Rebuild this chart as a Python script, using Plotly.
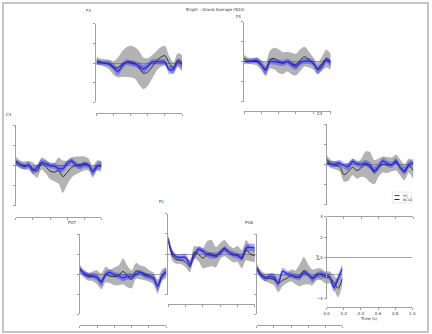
import numpy as np
import plotly.graph_objects as go

# ---- data: grand-average ERP (µV) per channel, HC vs BC10, mean and SEM ----
TIME = [0.0, 0.05, 0.1, 0.15, 0.2, 0.25, 0.3, 0.35, 0.4, 0.45, 0.5,
        0.55, 0.6, 0.65, 0.7, 0.75, 0.8, 0.85, 0.9, 0.95, 1.0]

F3_HC = [0.1, 0.05, 0.0, -0.05, -0.4, -0.85, -0.3, 0.1, 0.0, -0.1, -0.3,
         -0.6, -0.3, 0.1, 0.15, 0.15, 0.1, -0.7, -0.6, 0.1, -0.15]
F3_HC_SEM = [0.3, 0.25, 0.25, 0.3, 0.35, 0.4, 0.35, 0.3, 0.3, 0.3, 0.35,
             0.4, 0.35, 0.3, 0.3, 0.3, 0.3, 0.4, 0.4, 0.35, 0.4]
F3_BC = [0.25, 0.1, 0.0, -0.15, -0.5, -0.45, -0.1, 0.1, 0.15, 0.0, -0.5,
         -1.05, -0.9, -0.4, 0.2, 0.6, 0.75, 0.0, -0.5, 0.3, 0.0]
F3_BC_SEM = [0.4, 0.35, 0.4, 0.5, 0.7, 1.0, 1.3, 1.5, 1.6, 1.6, 1.7,
             1.6, 1.4, 1.2, 1.0, 1.0, 1.0, 0.7, 0.6, 0.7, 0.8]

F4_HC = [0.0, 0.0, 0.1, 0.1, -0.3, -0.9, 0.0, 0.0, -0.1, -0.15, 0.0,
         -0.3, -0.5, -0.1, 0.05, 0.05, -0.15, -0.8, -0.5, 0.15, -0.15]
F4_HC_SEM = [0.25, 0.25, 0.25, 0.3, 0.35, 0.4, 0.3, 0.3, 0.3, 0.3, 0.3,
             0.35, 0.35, 0.3, 0.3, 0.3, 0.3, 0.4, 0.35, 0.3, 0.35]
F4_BC = [0.35, 0.1, 0.0, 0.0, -0.4, -0.75, 0.2, 0.3, 0.05, -0.15, 0.0,
         -0.2, -0.3, 0.15, 0.5, 0.2, -0.2, -0.7, -0.2, 0.3, 0.0]
F4_BC_SEM = [0.35, 0.3, 0.3, 0.4, 0.5, 0.7, 0.9, 1.1, 1.2, 1.1, 1.0,
             1.1, 1.1, 1.1, 1.0, 0.8, 0.6, 0.6, 0.7, 0.9, 0.8]

C3_HC = [0.3, 0.1, -0.1, 0.05, -0.5, -0.2, 0.3, 0.2, 0.0, -0.05, -0.3,
         -0.3, 0.2, 0.45, 0.1, -0.1, 0.1, 0.0, -0.6, -0.1, 0.1]
C3_HC_SEM = [0.3, 0.3, 0.3, 0.3, 0.35, 0.35, 0.3, 0.3, 0.3, 0.3, 0.35,
             0.35, 0.3, 0.3, 0.3, 0.3, 0.3, 0.3, 0.4, 0.35, 0.35]
C3_BC = [0.5, 0.1, 0.0, 0.0, -0.3, -0.6, 0.2, -0.1, -0.55, -0.65, -0.5,
         -1.1, -0.7, -0.2, 0.0, 0.1, 0.2, 0.1, -0.6, 0.0, -0.1]
C3_BC_SEM = [0.4, 0.4, 0.4, 0.45, 0.6, 0.6, 0.6, 0.7, 0.8, 0.9, 1.3,
             1.6, 1.2, 1.0, 0.9, 0.8, 0.7, 0.6, 0.6, 0.5, 0.5]

C4_HC = [0.2, 0.05, 0.05, 0.15, -0.1, -0.2, 0.3, 0.1, 0.0, 0.15, -0.1,
         -0.6, -0.2, 0.35, 0.1, -0.05, 0.35, -0.3, -0.6, 0.0, 0.2]
C4_HC_SEM = [0.3, 0.3, 0.3, 0.3, 0.3, 0.35, 0.3, 0.3, 0.3, 0.3, 0.35,
             0.4, 0.35, 0.3, 0.3, 0.3, 0.3, 0.35, 0.4, 0.35, 0.35]
C4_BC = [0.55, 0.05, -0.1, -0.2, -1.0, -0.7, -0.25, -0.6, -0.3, 0.0, -0.25,
         -0.75, -0.3, 0.0, -0.05, 0.0, 0.2, -0.3, -0.75, -0.1, -0.6]
C4_BC_SEM = [0.4, 0.4, 0.4, 0.5, 0.7, 0.9, 0.8, 0.8, 0.9, 1.3, 1.5,
             1.2, 0.9, 0.8, 0.8, 0.7, 0.8, 0.8, 0.8, 0.7, 0.8]

PO7_HC = [0.5, 0.1, -0.1, -0.15, -0.3, -0.8, 0.0, 0.2, -0.05, -0.15, -0.35,
          -0.2, -0.2, 0.0, 0.2, -0.1, -0.2, -0.35, -1.2, -0.2, 0.3]
PO7_HC_SEM = [0.3, 0.3, 0.3, 0.3, 0.35, 0.4, 0.35, 0.3, 0.3, 0.3, 0.35,
              0.35, 0.3, 0.3, 0.3, 0.3, 0.3, 0.35, 0.45, 0.35, 0.35]
PO7_BC = [0.6, 0.05, -0.25, -0.2, -0.3, -0.7, 0.0, -0.2, -0.2, -0.1, 0.3,
          -0.2, -0.5, 0.35, 0.2, 0.1, -0.15, -0.4, -1.2, -0.1, 0.2]
PO7_BC_SEM = [0.4, 0.4, 0.4, 0.5, 0.7, 0.8, 0.8, 0.7, 0.9, 1.0, 1.3,
              1.1, 0.9, 0.8, 0.7, 0.7, 0.6, 0.6, 0.7, 0.6, 0.5]

PZ_HC = [1.3, 0.1, -0.3, -0.3, -0.3, -1.0, -0.2, 0.5, 0.3, 0.0, -0.15,
         -0.1, 0.1, 0.5, 0.2, 0.0, -0.15, -0.3, 0.6, 0.7, 0.6]
PZ_HC_SEM = [0.35, 0.3, 0.3, 0.3, 0.35, 0.4, 0.35, 0.3, 0.3, 0.3, 0.3,
             0.3, 0.3, 0.3, 0.3, 0.3, 0.3, 0.35, 0.35, 0.35, 0.35]
PZ_BC = [1.6, -0.2, -0.55, -0.6, -0.8, -1.2, 0.2, 0.0, -0.4, 0.0, 0.1,
         -0.3, 0.3, 0.6, 0.2, -0.1, 0.0, -0.5, 0.4, 0.0, -0.15]
PZ_BC_SEM = [0.5, 0.5, 0.4, 0.4, 0.5, 0.6, 0.6, 0.7, 1.0, 1.3, 1.3,
             1.0, 0.8, 0.8, 0.7, 0.7, 0.8, 0.9, 1.0, 0.7, 0.6]

PO8_HC = [0.55, -0.1, -0.4, -0.2, -0.3, -0.9, 0.3, 0.1, -0.1, -0.2, -0.3,
          0.15, 0.0, -0.45, -0.1, 0.05, -0.1, -0.25, -1.3, -0.4, 0.6]
PO8_HC_SEM = [0.3, 0.3, 0.3, 0.3, 0.35, 0.4, 0.35, 0.3, 0.3, 0.3, 0.3,
              0.3, 0.3, 0.35, 0.3, 0.3, 0.3, 0.35, 0.45, 0.4, 0.4]
PO8_BC = [0.7, 0.0, -0.3, -0.4, -0.5, -0.9, -0.6, -0.4, -0.1, -0.3, -0.1,
          0.35, 0.0, -0.3, 0.0, 0.0, -0.3, -0.3, -0.8, -1.4, -0.4]
PO8_BC_SEM = [0.4, 0.4, 0.4, 0.5, 0.6, 0.9, 0.6, 0.5, 0.6, 0.7, 1.1,
              1.4, 1.0, 0.8, 0.6, 0.6, 0.6, 0.6, 0.7, 0.9, 0.6]

CHANNELS = ["F3", "F4", "C3", "C4", "PO7", "Pz", "PO8"]
SERIES = {
    "F3": (F3_HC, F3_HC_SEM, F3_BC, F3_BC_SEM),
    "F4": (F4_HC, F4_HC_SEM, F4_BC, F4_BC_SEM),
    "C3": (C3_HC, C3_HC_SEM, C3_BC, C3_BC_SEM),
    "C4": (C4_HC, C4_HC_SEM, C4_BC, C4_BC_SEM),
    "PO7": (PO7_HC, PO7_HC_SEM, PO7_BC, PO7_BC_SEM),
    "Pz": (PZ_HC, PZ_HC_SEM, PZ_BC, PZ_BC_SEM),
    "PO8": (PO8_HC, PO8_HC_SEM, PO8_BC, PO8_BC_SEM),
}
GROUPS = ["HC", "BC10"]
Y_TICKS = [-4, -2, 0, 2, 4]
X_TICKS = [0.0, 0.2, 0.4, 0.6, 0.8, 1.0]
TITLE = "Bright - Grand Average (N10)"

# ---- layout: scalp-like arrangement of small axes (pixel geometry) ----
W, H = 432, 334
# x0, x1: time axis extent; ytop/ybot: µV axis extent; xline: detached time axis row
GEOM = {
    "F3":  dict(x0=95,  x1=182, ytop=21,  ybot=101, xline=112),
    "F4":  dict(x0=245, x1=333, ytop=19,  ybot=100, xline=110),
    "C3":  dict(x0=13,  x1=100, ytop=124, ybot=206, xline=217),
    "C4":  dict(x0=329, x1=417, ytop=123, ybot=205, xline=216),
    "PO7": dict(x0=78,  x1=166, ytop=235, ybot=316, xline=327),
    "Pz":  dict(x0=168, x1=256, ytop=214, ybot=296, xline=306),
    "PO8": dict(x0=258, x1=345, ytop=235, ybot=316, xline=327),
}
SCALE_GEOM = dict(x0=329, x1=416, ytop=217, ybot=300, xline=309)

HC_LINE = "#2a2ae8"
HC_FILL = "rgba(40,40,255,0.40)"
BC_LINE = "#222222"
BC_FILL = "rgba(110,110,110,0.52)"
AXIS_COL = "#a0a0a0"
TEXT_COL = "#333333"
FONT = "DejaVu Sans"


def px(x):
    return x / W


def py(y):
    return 1 - y / H


def band(t, mean, sem):
    m, s = np.asarray(mean), np.asarray(sem)
    return list(t) + list(t[::-1]), list(m + s) + list((m - s)[::-1])


fig = go.Figure()
t = np.asarray(TIME)
layout = {}

for i, ch in enumerate(CHANNELS, start=1):
    sfx = "" if i == 1 else str(i)
    xa, ya = "x" + sfx, "y" + sfx
    hc, hc_sem, bc, bc_sem = SERIES[ch]

    for mean, sem, fill in ((bc, bc_sem, BC_FILL), (hc, hc_sem, HC_FILL)):
        bx, by = band(t, mean, sem)
        fig.add_trace(go.Scatter(x=bx, y=by, xaxis=xa, yaxis=ya, fill="toself",
                                 fillcolor=fill, mode="lines",
                                 line=dict(width=0, shape="spline", smoothing=0.8),
                                 hoverinfo="skip", showlegend=False))
    fig.add_trace(go.Scatter(x=TIME, y=bc, xaxis=xa, yaxis=ya, mode="lines",
                             name=GROUPS[1], showlegend=False,
                             line=dict(color=BC_LINE, width=0.9, shape="spline", smoothing=0.8)))
    fig.add_trace(go.Scatter(x=TIME, y=hc, xaxis=xa, yaxis=ya, mode="lines",
                             name=GROUPS[0], showlegend=False,
                             line=dict(color=HC_LINE, width=1.3, shape="spline", smoothing=0.8)))

    g = GEOM[ch]
    layout["xaxis" + sfx] = dict(
        domain=[px(g["x0"]), px(g["x1"])], anchor="free", position=py(g["xline"]),
        range=[0, 1], tickvals=X_TICKS, showticklabels=False, ticks="outside",
        ticklen=2, tickwidth=0.8, tickcolor=AXIS_COL, showline=True,
        linecolor=AXIS_COL, linewidth=1, showgrid=False, zeroline=False)
    layout["yaxis" + sfx] = dict(
        domain=[py(g["ybot"]), py(g["ytop"])], anchor=xa, range=[-4, 4],
        tickvals=Y_TICKS, showticklabels=False, ticks="outside", ticklen=2,
        tickwidth=0.8, tickcolor=AXIS_COL, showline=True, linecolor=AXIS_COL,
        linewidth=1, showgrid=False, zeroline=True, zerolinecolor="#a8a8a8",
        zerolinewidth=0.8)

# scale axes (bottom right)
k = len(CHANNELS) + 1
fig.add_trace(go.Scatter(x=[None], y=[None], xaxis=f"x{k}", yaxis=f"y{k}",
                         mode="lines", showlegend=False, hoverinfo="skip"))
layout[f"xaxis{k}"] = dict(
    domain=[px(SCALE_GEOM["x0"]), px(SCALE_GEOM["x1"])], anchor="free",
    position=py(SCALE_GEOM["xline"]), range=[0, 1], tickvals=X_TICKS,
    tickformat=".1f", ticks="outside", ticklen=2, tickwidth=0.8,
    tickcolor=AXIS_COL, showline=True, linecolor=AXIS_COL, linewidth=1,
    showgrid=False, zeroline=False, tickfont=dict(size=4, color=TEXT_COL, family=FONT))
layout[f"yaxis{k}"] = dict(
    domain=[py(SCALE_GEOM["ybot"]), py(SCALE_GEOM["ytop"])], anchor=f"x{k}",
    range=[-4, 4], tickvals=Y_TICKS, ticks="outside", ticklen=2, tickwidth=0.8,
    tickcolor=AXIS_COL, showline=True, linecolor=AXIS_COL, linewidth=1,
    showgrid=False, zeroline=True, zerolinecolor="#a0a0a0", zerolinewidth=1,
    tickfont=dict(size=4, color=TEXT_COL, family=FONT))

# channel labels, title, axis captions
LABEL_POS = {"F3": (87, 8), "F4": (239, 14), "C3": (6, 113), "C4": (322, 112),
             "PO7": (71, 223), "Pz": (161, 202), "PO8": (251, 223)}
annotations = []
for ch, (lx, ly) in LABEL_POS.items():
    annotations.append(dict(x=px(lx), y=py(ly), xref="paper", yref="paper",
                            text=ch, showarrow=False, xanchor="center",
                            yanchor="middle", font=dict(size=4, color=TEXT_COL, family=FONT)))
annotations.append(dict(x=px(216), y=py(7), xref="paper", yref="paper",
                        text=TITLE, showarrow=False, xanchor="center", yanchor="middle",
                        font=dict(size=4, color=TEXT_COL, family=FONT)))
annotations.append(dict(x=px(372), y=py(320), xref="paper", yref="paper",
                        text="Time (s)", showarrow=False, xanchor="center",
                        yanchor="middle", font=dict(size=4, color=TEXT_COL, family=FONT)))
annotations.append(dict(x=px(319), y=py(258), xref="paper", yref="paper",
                        text="µV", showarrow=False, textangle=-90, xanchor="center",
                        yanchor="middle", font=dict(size=4, color=TEXT_COL, family=FONT)))

# legend (compact, inside the C4 axes)
LEG_BOX = (396, 192, 415, 203)
shapes = [
    dict(type="rect", xref="paper", yref="paper", x0=0, y0=0, x1=1, y1=1,
         line=dict(color="#c4c4c4", width=2)),
    dict(type="rect", xref="paper", yref="paper", x0=px(LEG_BOX[0]), y0=py(LEG_BOX[3]),
         x1=px(LEG_BOX[2]), y1=py(LEG_BOX[1]), line=dict(color="#d8d8d8", width=0.6),
         fillcolor="white"),
]
for j, (name, col) in enumerate(zip(GROUPS, (HC_LINE, BC_LINE))):
    yy = 195.5 + j * 4
    shapes.append(dict(type="line", xref="paper", yref="paper", x0=px(398), x1=px(403),
                       y0=py(yy), y1=py(yy), line=dict(color=col, width=1)))
    annotations.append(dict(x=px(404.5), y=py(yy), xref="paper", yref="paper",
                            text=name, showarrow=False, xanchor="left", yanchor="middle",
                            font=dict(size=3.5, color=TEXT_COL, family=FONT)))

fig.update_layout(
    width=W, height=H, margin=dict(l=0, r=0, t=0, b=0),
    paper_bgcolor="white", plot_bgcolor="rgba(0,0,0,0)",
    showlegend=False, annotations=annotations, shapes=shapes,
    font=dict(family=FONT), **layout)

fig.write_html("out.html")
